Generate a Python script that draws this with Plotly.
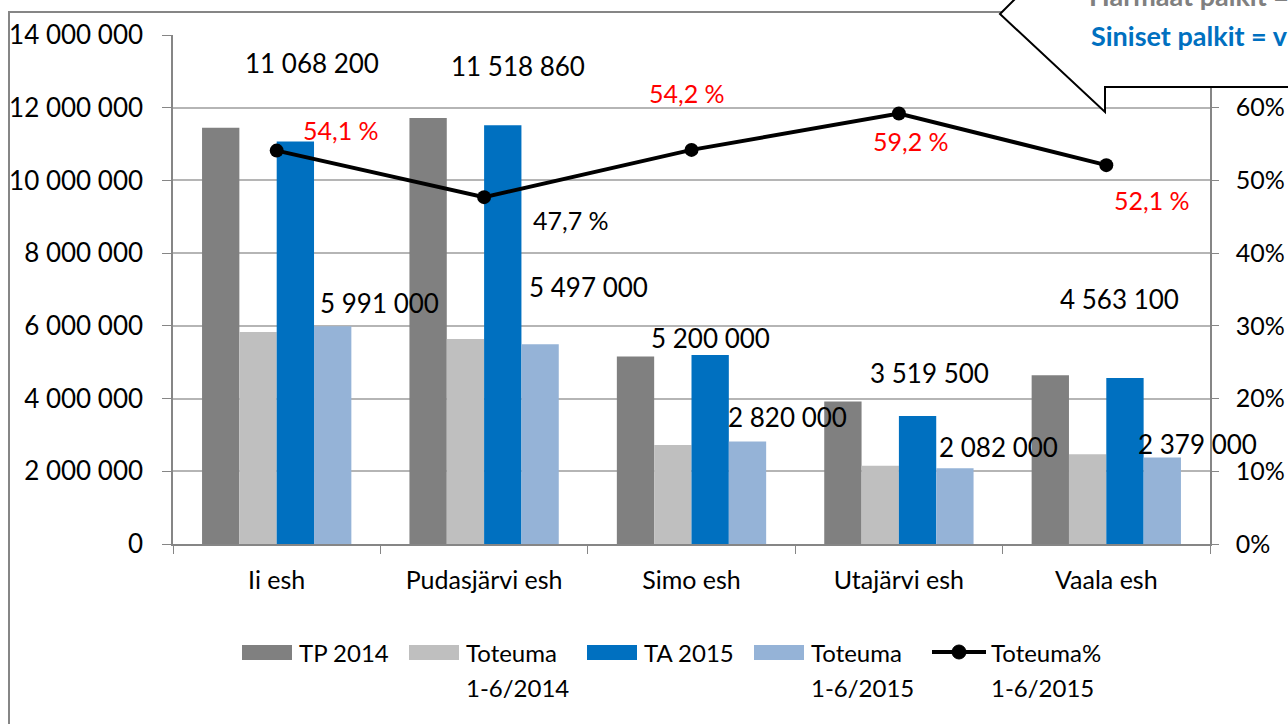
import plotly.graph_objects as go

# ---------------- data ----------------
categories = ["Ii esh", "Pudasjärvi esh", "Simo esh", "Utajärvi esh", "Vaala esh"]
series_names = ["TP 2014", "Toteuma<br>1-6/2014", "TA 2015", "Toteuma<br>1-6/2015", "Toteuma%<br>1-6/2015"]
tp2014 = [11450000, 11720000, 5160000, 3920000, 4640000]
tot2014 = [5830000, 5640000, 2720000, 2150000, 2470000]
ta2015 = [11068200, 11518860, 5200000, 3519500, 4563100]
tot2015 = [5991000, 5497000, 2820000, 2082000, 2379000]
pct2015 = [0.541, 0.477, 0.542, 0.592, 0.521]
left_ticks = [0, 2000000, 4000000, 6000000, 8000000, 10000000, 12000000, 14000000]
right_ticks = [0, 0.1, 0.2, 0.3, 0.4, 0.5, 0.6]
callout_lines = ["Harmaat palkit =", "Siniset palkit = v"]

# ---------------- style ----------------
colors = ["#808080", "#bfbfbf", "#0070c0", "#95b3d7"]
FONT = "Lato, 'Open Sans', sans-serif"
W, H = 1288, 724
PL, PR, PT, PB = 173, 1210, 35, 544  # plot area in pixels


def px(x):
    return (x - PL) / (PR - PL)


def py(y):
    return (PB - y) / (PB - PT)


def fmt_num(v):
    return f"{v:,}".replace(",", " ")


def fmt_pct(v):
    return f"{v * 100:.1f}".replace(".", ",") + " %"


fig = go.Figure()
for name, vals, col in zip(series_names[:4], [tp2014, tot2014, ta2015, tot2015], colors):
    fig.add_trace(go.Bar(x=categories, y=vals, name=name.replace("<br>", " "), marker_color=col,
                         marker_line_width=0, showlegend=False))

fig.add_trace(go.Scatter(x=categories, y=pct2015, yaxis="y2", mode="lines+markers",
                         line=dict(color="black", width=4),
                         marker=dict(color="black", size=14),
                         name=series_names[4].replace("<br>", " "), showlegend=False))

# ---- data labels (manually offset like the original) ----
ta_dx = [35, 34, 19, 31, 13]
ta_dy = [79, 59, 17, 43, 79]
t15_dx = [103, 104, 96, 100, 91]
t15_dy = [23, 57, 24, 21, 14]
pc_dx = [64, 87, -5, 12, 46]
pc_dy = [21, -23, 57, -27, -35]

for i, c in enumerate(categories):
    fig.add_annotation(x=c, y=ta2015[i], xref="x", yref="y", text=fmt_num(ta2015[i]),
                       showarrow=False, xshift=ta_dx[i], yshift=ta_dy[i],
                       font=dict(family=FONT, size=26, color="black"))
    fig.add_annotation(x=c, y=tot2015[i], xref="x", yref="y", text=fmt_num(tot2015[i]),
                       showarrow=False, xshift=t15_dx[i], yshift=t15_dy[i],
                       font=dict(family=FONT, size=26, color="black"))
    fig.add_annotation(x=c, y=pct2015[i], xref="x", yref="y2", text=fmt_pct(pct2015[i]),
                       showarrow=False, xshift=pc_dx[i], yshift=pc_dy[i],
                       font=dict(family=FONT, size=25,
                                 color="#ff0000" if pct2015[i] >= 0.5 else "black"))

shapes = []
# outer chart border
shapes.append(dict(type="rect", xref="paper", yref="paper",
                   x0=px(9), y0=py(740), x1=px(1310), y1=py(12),
                   line=dict(color="#868686", width=2), layer="below"))

# callout box
pts = [(1022, -8), (1000, 14), (1105, 112), (1105, 87), (1320, 87), (1320, -8)]
path = "M " + " L ".join(f"{px(a):.5f},{py(b):.5f}" for a, b in pts) + " Z"
shapes.append(dict(type="path", xref="paper", yref="paper", path=path,
                   fillcolor="white", line=dict(color="black", width=2), layer="above"))

annotations = []
annotations.append(dict(xref="paper", yref="paper", x=px(1087), y=py(-5), xanchor="left",
                        yanchor="middle", showarrow=False,
                        text="<b>" + callout_lines[0] + "</b>",
                        font=dict(family=FONT, size=27, color="#808080")))
annotations.append(dict(xref="paper", yref="paper", x=px(1089), y=py(36), xanchor="left",
                        yanchor="middle", showarrow=False,
                        text="<b>" + callout_lines[1] + "</b>",
                        font=dict(family=FONT, size=27, color="#0070c0")))

# custom legend
leg_x = [242, 409, 587, 754]
row1, row2 = 652, 687
for x0, col, name in zip(leg_x, colors, series_names[:4]):
    shapes.append(dict(type="rect", xref="paper", yref="paper",
                       x0=px(x0), x1=px(x0 + 50), y0=py(row1 + 8), y1=py(row1 - 7),
                       fillcolor=col, line=dict(width=0)))
    for k, line in enumerate(name.split("<br>")):
        annotations.append(dict(xref="paper", yref="paper", x=px(x0 + 55),
                                y=py(row1 if k == 0 else row2),
                                xanchor="left", yanchor="middle", align="left", showarrow=False,
                                text=line, font=dict(family=FONT, size=24, color="black")))
shapes.append(dict(type="line", xref="paper", yref="paper", x0=px(932), x1=px(986),
                   y0=py(row1), y1=py(row1), line=dict(color="black", width=4)))
shapes.append(dict(type="circle", xref="paper", yref="paper", x0=px(952), x1=px(966),
                   y0=py(row1 + 7), y1=py(row1 - 7), fillcolor="black",
                   line=dict(color="black", width=1)))
for k, line in enumerate(series_names[4].split("<br>")):
    annotations.append(dict(xref="paper", yref="paper", x=px(989),
                            y=py(row1 if k == 0 else row2),
                            xanchor="left", yanchor="middle", align="left", showarrow=False,
                            text=line, font=dict(family=FONT, size=24, color="black")))

fig.update_layout(
    width=W, height=H, autosize=False,
    margin=dict(l=PL, r=W - PR, t=PT, b=H - PB, pad=0, autoexpand=False),
    paper_bgcolor="white", plot_bgcolor="white",
    separators=", ",
    barmode="group", bargap=0.28, bargroupgap=0,
    font=dict(family=FONT, size=25, color="black"),
    showlegend=False,
    xaxis=dict(range=[-0.5, len(categories) - 0.5], autorange=False,
               showline=True, linecolor="#868686", linewidth=1.5, automargin=False,
               ticks="outside", tickson="boundaries", ticklen=8, tickcolor="#868686",
               tickfont=dict(family=FONT, size=25), showgrid=False,
               ticklabelstandoff=13),
    yaxis=dict(range=[0, 14000000], tickvals=left_ticks, tickformat=",d", automargin=False,
               showline=True, linecolor="#868686", linewidth=1.5,
               ticks="outside", ticklen=9, tickcolor="#868686",
               showgrid=True, gridcolor="#b5b5b5", gridwidth=1.5,
               tickfont=dict(family=FONT, size=26), ticklabelstandoff=14, zeroline=False),
    yaxis2=dict(range=[0, 0.7], tickvals=right_ticks, tickformat=".0%", automargin=False,
                overlaying="y", side="right",
                showline=True, linecolor="#868686", linewidth=1.5,
                ticks="outside", ticklen=7, tickcolor="#868686",
                showgrid=False, zeroline=False,
                tickfont=dict(family=FONT, size=25), ticklabelstandoff=12),
    shapes=shapes,
    annotations=list(fig.layout.annotations) + annotations,
)

fig.write_html("out.html", config={"displayModeBar": False},
               post_script="document.body.style.margin='0';document.body.style.overflow='hidden';")
